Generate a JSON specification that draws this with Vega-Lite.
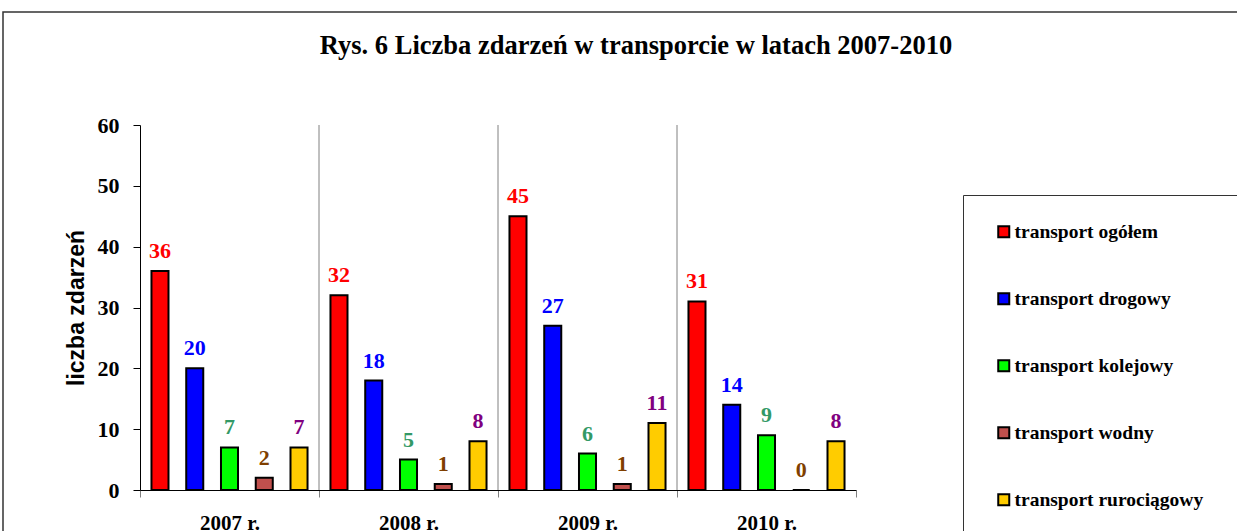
{
  "$schema": "https://vega.github.io/schema/vega-lite/v6.json",
  "width": 1240,
  "height": 540,
  "autosize": {"type": "none"},
  "padding": {"left": 3, "top": 12, "right": 0, "bottom": 0},
  "background": "white",
  "config": {"view": {"stroke": "#333333", "strokeWidth": 1.5}, "font": "Liberation Serif"},
  "title": {
    "text": "Rys. 6 Liczba zdarzeń w transporcie w latach 2007-2010",
    "font": "Liberation Serif",
    "fontSize": 26.5,
    "fontWeight": "bold",
    "color": "black",
    "offset": -47,
    "dx": 13
  },
  "datasets": {
    "dane": [
      {"rok": "2007 r.", "rodzaj": "transport ogółem", "liczba": 36},
      {"rok": "2007 r.", "rodzaj": "transport drogowy", "liczba": 20},
      {"rok": "2007 r.", "rodzaj": "transport kolejowy", "liczba": 7},
      {"rok": "2007 r.", "rodzaj": "transport wodny", "liczba": 2},
      {"rok": "2007 r.", "rodzaj": "transport rurociągowy", "liczba": 7},
      {"rok": "2008 r.", "rodzaj": "transport ogółem", "liczba": 32},
      {"rok": "2008 r.", "rodzaj": "transport drogowy", "liczba": 18},
      {"rok": "2008 r.", "rodzaj": "transport kolejowy", "liczba": 5},
      {"rok": "2008 r.", "rodzaj": "transport wodny", "liczba": 1},
      {"rok": "2008 r.", "rodzaj": "transport rurociągowy", "liczba": 8},
      {"rok": "2009 r.", "rodzaj": "transport ogółem", "liczba": 45},
      {"rok": "2009 r.", "rodzaj": "transport drogowy", "liczba": 27},
      {"rok": "2009 r.", "rodzaj": "transport kolejowy", "liczba": 6},
      {"rok": "2009 r.", "rodzaj": "transport wodny", "liczba": 1},
      {"rok": "2009 r.", "rodzaj": "transport rurociągowy", "liczba": 11},
      {"rok": "2010 r.", "rodzaj": "transport ogółem", "liczba": 31},
      {"rok": "2010 r.", "rodzaj": "transport drogowy", "liczba": 14},
      {"rok": "2010 r.", "rodzaj": "transport kolejowy", "liczba": 9},
      {"rok": "2010 r.", "rodzaj": "transport wodny", "liczba": 0},
      {"rok": "2010 r.", "rodzaj": "transport rurociągowy", "liczba": 8}
    ],
    "granice": [
      {"rok": "2008 r."},
      {"rok": "2009 r."},
      {"rok": "2010 r."}
    ]
  },
  "encoding": {
    "x": {
      "field": "rok",
      "type": "nominal",
      "scale": {
        "domain": ["2007 r.", "2008 r.", "2009 r.", "2010 r."],
        "range": [137, 853],
        "paddingInner": 0,
        "paddingOuter": 0
      },
      "axis": {
        "title": null,
        "orient": "bottom",
        "offset": -62,
        "labelFont": "Liberation Serif",
        "labelFontSize": 21,
        "labelFontWeight": "bold",
        "labelColor": "black",
        "labelAngle": 0,
        "labelPadding": 15,
        "tickBand": "extent",
        "tickColor": "#808080",
        "tickSize": 7,
        "domainColor": "black",
        "grid": false
      }
    }
  },
  "layer": [
    {
      "data": {"name": "granice"},
      "mark": {"type": "rule", "color": "#808080", "strokeWidth": 1},
      "encoding": {
        "x": {"field": "rok", "type": "nominal", "bandPosition": 0},
        "y": {"datum": 0, "type": "quantitative"},
        "y2": {"datum": 60}
      }
    },
    {
      "data": {"name": "dane"},
      "mark": {"type": "bar", "stroke": "black", "strokeWidth": 2},
      "encoding": {
        "xOffset": {
          "field": "rodzaj",
          "type": "nominal",
          "sort": ["transport ogółem", "transport drogowy", "transport kolejowy", "transport wodny", "transport rurociągowy"],
          "scale": {"paddingInner": 0.51, "paddingOuter": 0.33}
        },
        "y": {
          "field": "liczba",
          "type": "quantitative",
          "scale": {"domain": [0, 60], "range": [478, 113], "nice": false},
          "axis": {
            "title": "liczba zdarzeń",
            "titleFont": "Liberation Sans",
            "titleFontSize": 23,
            "titleFontWeight": "bold",
            "titleColor": "black",
            "titlePadding": 9,
            "offset": -137,
            "values": [0, 10, 20, 30, 40, 50, 60],
            "labelFont": "Liberation Serif",
            "labelFontSize": 22,
            "labelFontWeight": "bold",
            "labelColor": "black",
            "labelPadding": 14,
            "domainColor": "black",
            "tickColor": "black",
            "tickSize": 7,
            "grid": false
          }
        },
        "color": {
          "field": "rodzaj",
          "type": "nominal",
          "scale": {
            "domain": ["transport ogółem", "transport drogowy", "transport kolejowy", "transport wodny", "transport rurociągowy"],
            "range": ["#FF0000", "#0000FF", "#00FF00", "#C0504D", "#FFCC00"]
          },
          "legend": {
            "title": " ",
            "titleOrient": "right",
            "titlePadding": 30,
            "orient": "none",
            "legendX": 960,
            "legendY": 183,
            "strokeColor": "#333333",
            "padding": 27,
            "rowPadding": 46,
            "symbolType": "square",
            "symbolSize": 121,
            "symbolStrokeColor": "black",
            "symbolStrokeWidth": 2,
            "symbolOffset": 4,
            "labelFont": "Liberation Serif",
            "labelFontSize": 19.5,
            "labelFontWeight": "bold",
            "labelColor": "black",
            "labelOffset": 1,
            "labelLimit": 400
          }
        }
      }
    },
    {
      "data": {"name": "dane"},
      "mark": {"type": "text", "baseline": "bottom", "dy": -8, "font": "Liberation Serif", "fontSize": 22, "fontWeight": "bold"},
      "encoding": {
        "xOffset": {
          "field": "rodzaj",
          "type": "nominal",
          "sort": ["transport ogółem", "transport drogowy", "transport kolejowy", "transport wodny", "transport rurociągowy"],
          "scale": {"paddingInner": 0.51, "paddingOuter": 0.33}
        },
        "y": {"field": "liczba", "type": "quantitative"},
        "text": {"field": "liczba", "type": "quantitative"},
        "color": {
          "field": "rodzaj",
          "type": "nominal",
          "scale": {
            "domain": ["transport ogółem", "transport drogowy", "transport kolejowy", "transport wodny", "transport rurociągowy"],
            "range": ["#FF0000", "#0000FF", "#339966", "#7F3F00", "#800080"]
          },
          "legend": null
        }
      }
    }
  ],
  "resolve": {"scale": {"color": "independent"}}
}
